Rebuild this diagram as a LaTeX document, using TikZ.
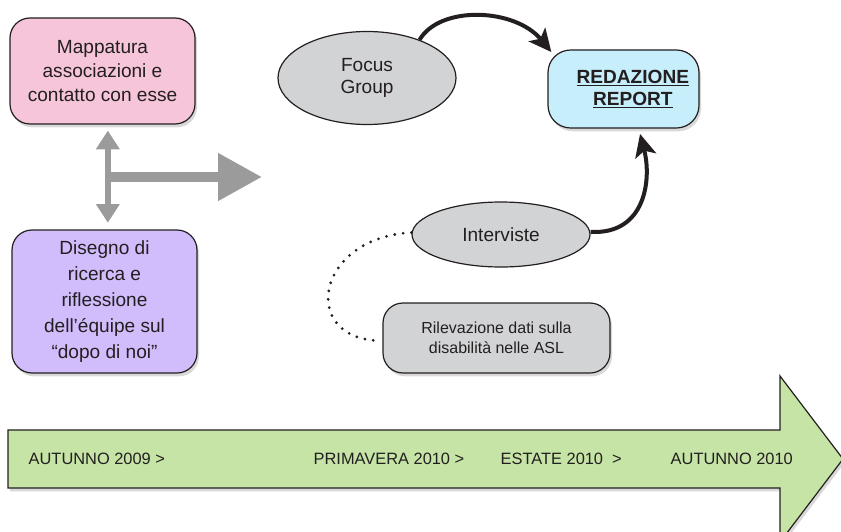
\documentclass[tikz,border=0pt]{standalone}
\usepackage{fontspec}
\setmainfont{Liberation Sans}
\usetikzlibrary{shapes.geometric,shadows,arrows.meta,positioning}

\definecolor{pinkbox}{HTML}{F6C5DA}
\definecolor{lilacbox}{HTML}{D1BDFC}
\definecolor{cyanbox}{HTML}{C7EEFB}
\definecolor{ovalgray}{HTML}{D2D3D5}
\definecolor{bandgreen}{HTML}{C5E4A6}
\definecolor{arrowgray}{HTML}{9B9B9B}
\definecolor{ink}{HTML}{231F20}

\begin{document}
\begin{tikzpicture}[x=0.75pt,y=0.75pt,
  every node/.style={text=ink},
  shade/.style={drop shadow={opacity=0.3,shadow xshift=1.5pt,shadow yshift=-2.5pt}},
  box/.style={draw=ink,line width=0.9pt,rounded corners=15pt,align=center,inner sep=0pt,shade},
  oval/.style={ellipse,draw=ink,line width=0.9pt,fill=ovalgray,align=center,inner sep=0pt},
  bigtext/.style={font=\fontsize{14.3}{18}\selectfont},
  link/.style={draw=ink,line width=3pt,-{Stealth[length=17pt,width=16pt,inset=4pt]}},
  grayarrow/.style={draw=arrowgray,line width=4.5pt},
  period/.style={anchor=west,font=\fontsize{12.3}{14}\selectfont}
]
\useasboundingbox (0,0) rectangle (841,-531);

% timeline band
\draw[draw=ink,line width=0.9pt,fill=bandgreen,shade]
  (8,-430) -- (780,-430) -- (780,-376) -- (843,-459) -- (780,-542) -- (780,-488) -- (8,-488) -- cycle;
\node[period] (t1) at (24,-459) {AUTUNNO 2009 >};
\node[period] (t2) at (309,-459) {PRIMAVERA 2010 >};
\node[period] (t3) at (496,-459) {ESTATE 2010 \ >};
\node[period] (t4) at (666,-459) {AUTUNNO 2010};

% boxes on the left
\node[box,bigtext,fill=pinkbox,minimum width=138.75pt,minimum height=79.5pt] (mapping) at (102.5,-71)
  {Mappatura\\associazioni e\\contatto con esse};
\node[box,fill=lilacbox,minimum width=138.75pt,minimum height=107.25pt,
  font=\fontsize{14.3}{19.5}\selectfont] (design) at (104.5,-301.5)
  {Disegno di\\ricerca e\\riflessione\\dell’équipe sul\\“dopo di noi”};

% gray arrows
\coordinate (hub) at (108,-177);
\coordinate (hubtip) at (262,-177);
\draw[grayarrow,{Triangle[length=14pt,width=17pt]}-{Triangle[length=14pt,width=17pt]},
  shorten <=4.5pt,shorten >=5pt] ([xshift=4pt]mapping.south) -- ([xshift=2.5pt]design.north);
\draw[draw=arrowgray,line width=7.5pt,-{Triangle[length=33pt,width=34pt]}] (hub) -- (hubtip);

% activities
\node[oval,bigtext,minimum width=133.5pt,minimum height=69.75pt] (focus) at (367,-78)
  {Focus\\[-1.5pt]Group};
\node[box,fill=cyanbox,minimum width=113.25pt,minimum height=58.5pt,rounded corners=17pt,
  font=\fontsize{14.3}{16.5}\selectfont\bfseries] (report) at (623.5,-89)
  {\hspace*{14pt}\underline{REDAZIONE}\\\hspace*{14pt}\underline{REPORT}};
\node[oval,bigtext,minimum width=133.5pt,minimum height=48.75pt] (interviews) at (501,-234.5)
  {Interviste};
\node[box,fill=ovalgray,minimum width=170.25pt,minimum height=52.5pt,
  font=\fontsize{12}{15}\selectfont] (asl) at (496.5,-338)
  {Rilevazione dati sulla\\disabilità nelle ASL};

% connectors
\draw[link] (focus.36) .. controls (440,-5) and (515,-8) .. ([xshift=3pt,yshift=-2pt]report.north west);
\draw[link] ([yshift=2pt]interviews.east) .. controls (645,-235) and (652,-180) .. ([xshift=12.4pt,yshift=-4pt]report.south);
\draw[draw=ink,line width=2.3pt,line cap=round,dash pattern=on 0pt off 6.3pt]
  ([yshift=1.5pt]interviews.west) .. controls (315,-238) and (300,-338) .. ([xshift=-3pt,yshift=-2pt]asl.west);
\end{tikzpicture}
\end{document}
